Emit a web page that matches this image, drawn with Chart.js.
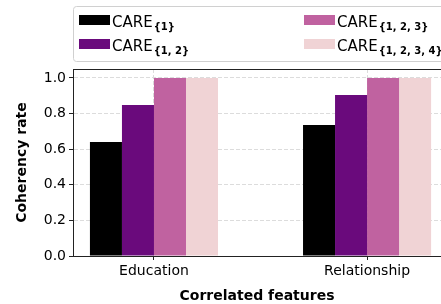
<!DOCTYPE html>
<html>
<head>
<meta charset="utf-8">
<script src="https://cdn.jsdelivr.net/npm/chart.js@4/dist/chart.umd.min.js"></script>
<style>
  html, body { margin: 0; padding: 0; background: #fff; overflow: hidden; }
  canvas { display: block; }
</style>
</head>
<body>
<canvas id="chart" width="441" height="304"></canvas>
<script>
// ── DATA ────────────────────────────────────────────────────
const categories = ['Education', 'Relationship'];
const seriesSubs = ['{1}', '{1, 2}', '{1, 2, 3}', '{1, 2, 3, 4}'];
const care1    = [0.64, 0.736];
const care12   = [0.848, 0.904];
const care123  = [1.0, 1.0];
const care1234 = [1.0, 1.0];
const yTicks   = [0, 0.2, 0.4, 0.6, 0.8, 1.0];

const colors = ['#000000', '#6a0a7c', '#c062a0', '#f0d3d5'];
const FONT = 'DejaVu Sans';

const toPoints = arr => arr.map((v, i) => ({ x: i, y: v }));

// ── LEGEND (with subscripts) ────────────────────────────────
const careLegend = {
  id: 'careLegend',
  afterDraw(chart) {
    const ctx = chart.ctx;
    ctx.save();
    // frame
    ctx.strokeStyle = '#d0d0d0';
    ctx.lineWidth = 1;
    ctx.beginPath();
    ctx.roundRect(73.5, 6.5, 400, 55, 3);
    ctx.stroke();
    const slots = [[79, 15], [79, 39], [304, 15], [304, 39]];
    chart.data.datasets.forEach((ds, i) => {
      const [x, y] = slots[i];
      ctx.fillStyle = ds.backgroundColor;
      ctx.fillRect(x, y, 31, 10);
      ctx.fillStyle = '#000';
      ctx.textBaseline = 'alphabetic';
      ctx.font = `15px "${FONT}"`;
      ctx.fillText('CARE', x + 33, y + 12);
      const w = ctx.measureText('CARE').width;
      ctx.font = `bold 10px "${FONT}"`;
      ctx.fillText(seriesSubs[i], x + 34 + w, y + 15);
    });
    ctx.restore();
  }
};

// top spine
const topSpine = {
  id: 'topSpine',
  afterDraw(chart) {
    const { ctx, chartArea: a } = chart;
    ctx.save();
    ctx.strokeStyle = '#222';
    ctx.lineWidth = 1;
    ctx.beginPath();
    ctx.moveTo(a.left, Math.round(a.top) + 0.5);
    ctx.lineTo(a.right, Math.round(a.top) + 0.5);
    ctx.stroke();
    ctx.restore();
  }
};

// ── CHART ───────────────────────────────────────────────────
new Chart(document.getElementById('chart'), {
  type: 'bar',
  data: {
    datasets: [care1, care12, care123, care1234].map((d, i) => ({
      label: 'CARE' + seriesSubs[i],
      data: toPoints(d),
      backgroundColor: colors[i],
      borderWidth: 0,
      categoryPercentage: 0.601,
      barPercentage: 1.0
    }))
  },
  options: {
    responsive: false,
    animation: false,
    layout: { padding: { top: 69, right: 0, bottom: 0, left: 0 } },
    plugins: { legend: { display: false }, tooltip: { enabled: false } },
    scales: {
      x: {
        type: 'linear',
        offset: false,
        min: -0.38,
        max: 1.347,
        afterBuildTicks: s => { s.ticks = categories.map((c, i) => ({ value: i })); },
        afterFit: s => { s.height = 48; },
        grid: { offset: false, color: '#dcdcdc', tickColor: '#222', tickLength: 4, lineWidth: 1 },
        border: { color: '#222', width: 1, dash: [4, 2] },
        ticks: {
          color: '#000', padding: 3, maxRotation: 0,
          font: { family: FONT, size: 14 },
          callback: v => categories[v]
        },
        title: {
          display: true, text: 'Correlated features', color: '#000',
          font: { family: FONT, size: 14, weight: 'bold' },
          padding: { top: 0, bottom: -1 }
        }
      },
      y: {
        min: 0,
        max: 1.05,
        afterBuildTicks: s => { s.ticks = yTicks.map(v => ({ value: v })); },
        afterFit: s => { s.width = 73; },
        grid: { color: '#dcdcdc', tickColor: '#222', tickLength: 4, lineWidth: 1 },
        border: { color: '#222', width: 1, dash: [4, 2] },
        ticks: {
          color: '#000', padding: 3,
          font: { family: FONT, size: 14 },
          callback: v => v.toFixed(1)
        },
        title: {
          display: true, text: 'Coherency rate', color: '#000',
          font: { family: FONT, size: 14, weight: 'bold' },
          padding: { top: 14, bottom: 0 }
        }
      }
    }
  },
  plugins: [careLegend, topSpine]
});
</script>
</body>
</html>
